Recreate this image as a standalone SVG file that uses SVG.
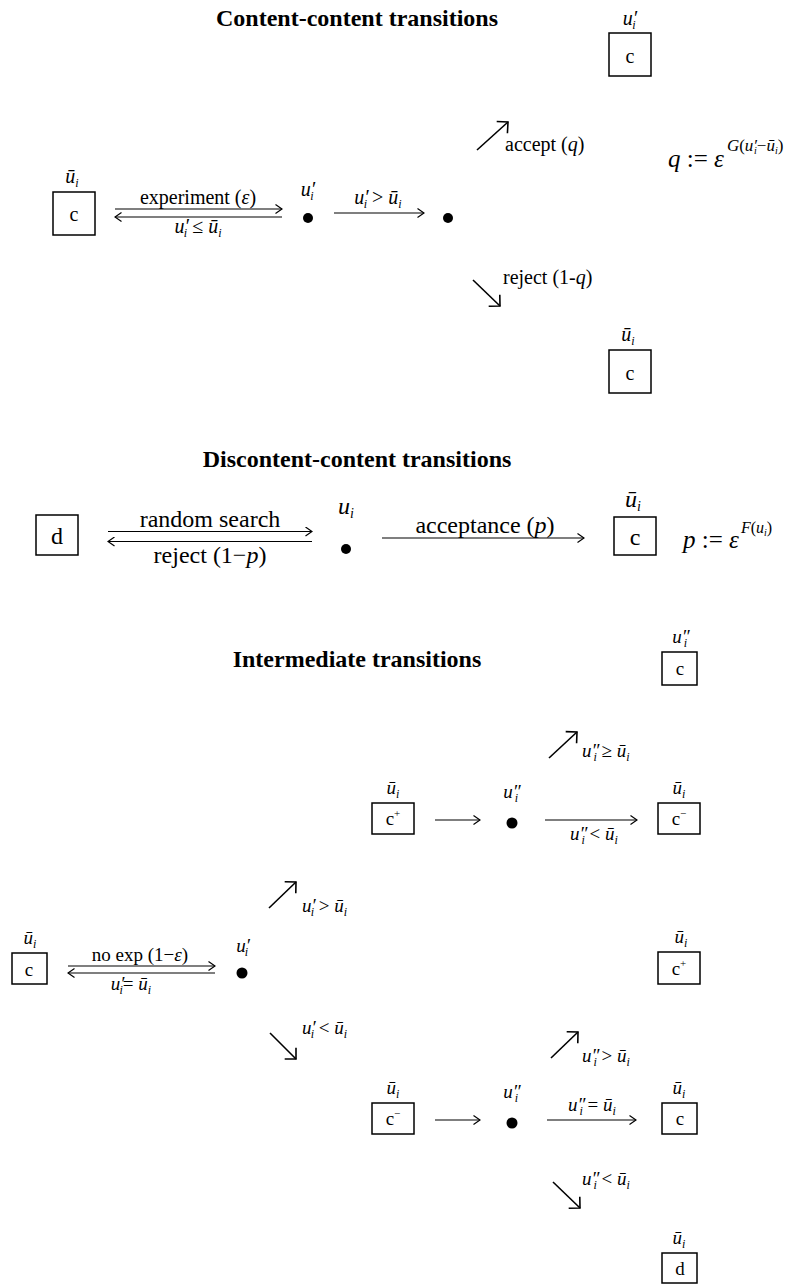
<svg xmlns="http://www.w3.org/2000/svg" width="793" height="1284" viewBox="0 0 793 1284">
<style>
text{font-family:"Liberation Serif","Times New Roman",serif;fill:#000}
.ti{font-size:24px;font-weight:bold}
.a{font-size:20px}
.b{font-size:24px}
.c{font-size:19px}
.i{font-style:italic}
.s{font-size:12px;font-style:italic}
.sb{font-size:14px;font-style:italic}
.box{fill:#fff;stroke:#000;stroke-width:1.5}
.ln{stroke:#000;stroke-width:1.2;fill:none}
.dg{stroke:#000;stroke-width:1.6;fill:none}
.dot{fill:#000}
</style>
<defs>
<marker id="ah" viewBox="0 0 8 10" refX="7" refY="5" markerWidth="8" markerHeight="10" markerUnits="userSpaceOnUse" orient="auto">
<path d="M0.5,0.5 L7,5 L0.5,9.5" fill="none" stroke="#000" stroke-width="1.2"/>
</marker>
<marker id="ad" viewBox="0 0 10 18" refX="9" refY="9" markerWidth="10" markerHeight="18" markerUnits="userSpaceOnUse" orient="auto">
<path d="M1,1 L9,9 L1,17" fill="none" stroke="#000" stroke-width="1.6"/>
</marker>
</defs>

<!-- Titles -->
<text class="ti" x="357" y="26" text-anchor="middle">Content-content transitions</text>
<text class="ti" x="357" y="467" text-anchor="middle">Discontent-content transitions</text>
<text class="ti" x="357" y="667" text-anchor="middle">Intermediate transitions</text>

<!-- Section 1 nodes -->
<g id="s1-c-left">
<rect class="box" x="53" y="192" width="42" height="43"/>
<text class="a" x="74" y="221" text-anchor="middle">c</text>
<text class="a" x="72" y="183" text-anchor="middle"><tspan class="i">ū</tspan><tspan class="s" dy="4">i</tspan></text>
</g>
<g id="s1-dot1">
<circle class="dot" cx="308" cy="218" r="5"/>
<text class="a" x="308" y="196" text-anchor="middle"><tspan class="i">u′</tspan><tspan class="s" dx="-5" dy="4">i</tspan></text>
</g>
<g id="s1-dot2">
<circle class="dot" cx="448" cy="218" r="5"/>
</g>
<g id="s1-c-top">
<rect class="box" x="609" y="33" width="42" height="43"/>
<text class="a" x="630" y="63" text-anchor="middle">c</text>
<text class="a" x="630" y="25" text-anchor="middle"><tspan class="i">u′</tspan><tspan class="s" dx="-5" dy="4">i</tspan></text>
</g>
<g id="s1-c-bottom">
<rect class="box" x="609" y="350" width="42" height="43"/>
<text class="a" x="630" y="380" text-anchor="middle">c</text>
<text class="a" x="628" y="341" text-anchor="middle"><tspan class="i">ū</tspan><tspan class="s" dy="4">i</tspan></text>
</g>
<g id="s1-formula">
<text x="668" y="167" font-size="25"><tspan class="i">q</tspan> := <tspan class="i">ε</tspan><tspan font-size="17" dy="-16" dx="3"><tspan class="i">G</tspan>(<tspan class="i">u′</tspan><tspan font-size="10" font-style="italic" dx="-3" dy="3">i</tspan><tspan dy="-3">−</tspan><tspan class="i">ū</tspan><tspan font-size="10" font-style="italic" dy="3">i</tspan><tspan dy="-3">)</tspan></tspan></text>
</g>

<!-- Section 2 nodes -->
<g id="s2-d">
<rect class="box" x="36" y="515" width="42" height="40"/>
<text class="b" x="57" y="544" text-anchor="middle">d</text>
</g>
<g id="s2-dot">
<circle class="dot" cx="346" cy="549" r="5"/>
<text class="b" x="346" y="514" text-anchor="middle"><tspan class="i">u</tspan><tspan class="sb" dy="4">i</tspan></text>
</g>
<g id="s2-c">
<rect class="box" x="614" y="517" width="42" height="38"/>
<text class="b" x="635" y="545" text-anchor="middle">c</text>
<text class="b" x="633" y="507" text-anchor="middle"><tspan class="i">ū</tspan><tspan class="sb" dy="4">i</tspan></text>
</g>
<g id="s2-formula">
<text x="683" y="548" font-size="25"><tspan class="i">p</tspan> := <tspan class="i">ε</tspan><tspan font-size="16" dy="-15" dx="2"><tspan class="i">F</tspan>(<tspan class="i">u</tspan><tspan font-size="10" font-style="italic" dy="3">i</tspan><tspan dy="-3">)</tspan></tspan></text>
</g>

<!-- Section 3 nodes -->
<g id="s3-c-left">
<rect class="box" x="12" y="953" width="35" height="31"/>
<text class="c" x="29" y="976" text-anchor="middle">c</text>
<text class="c" x="30" y="944" text-anchor="middle"><tspan class="i">ū</tspan><tspan class="s" dy="4">i</tspan></text>
</g>
<g id="s3-dot1">
<circle class="dot" cx="242" cy="973" r="5.5"/>
<text class="c" x="243" y="952" text-anchor="middle"><tspan class="i">u′</tspan><tspan class="s" dx="-5" dy="4">i</tspan></text>
</g>
<g id="s3-cplus-a">
<rect class="box" x="372" y="803" width="42" height="31"/>
<text class="c" x="393" y="825" text-anchor="middle">c<tspan font-size="11" dy="-8">+</tspan></text>
<text class="c" x="393" y="794" text-anchor="middle"><tspan class="i">ū</tspan><tspan class="s" dy="4">i</tspan></text>
</g>
<g id="s3-dot2">
<circle class="dot" cx="512" cy="823" r="5.5"/>
<text class="c" x="512" y="798" text-anchor="middle"><tspan class="i">u″</tspan><tspan class="s" dx="-6" dy="4">i</tspan></text>
</g>
<g id="s3-c-top">
<rect class="box" x="662" y="652" width="35" height="33"/>
<text class="c" x="680" y="675" text-anchor="middle">c</text>
<text class="c" x="681" y="643" text-anchor="middle"><tspan class="i">u″</tspan><tspan class="s" dx="-6" dy="4">i</tspan></text>
</g>
<g id="s3-cminus-a">
<rect class="box" x="658" y="803" width="42" height="31"/>
<text class="c" x="679" y="825" text-anchor="middle">c<tspan font-size="11" dy="-8">−</tspan></text>
<text class="c" x="679" y="794" text-anchor="middle"><tspan class="i">ū</tspan><tspan class="s" dy="4">i</tspan></text>
</g>
<g id="s3-cplus-b">
<rect class="box" x="658" y="952" width="42" height="32"/>
<text class="c" x="679" y="975" text-anchor="middle">c<tspan font-size="11" dy="-8">+</tspan></text>
<text class="c" x="681" y="943" text-anchor="middle"><tspan class="i">ū</tspan><tspan class="s" dy="4">i</tspan></text>
</g>
<g id="s3-cminus-b">
<rect class="box" x="372" y="1103" width="42" height="31"/>
<text class="c" x="393" y="1125" text-anchor="middle">c<tspan font-size="11" dy="-8">−</tspan></text>
<text class="c" x="393" y="1094" text-anchor="middle"><tspan class="i">ū</tspan><tspan class="s" dy="4">i</tspan></text>
</g>
<g id="s3-dot3">
<circle class="dot" cx="512" cy="1123" r="5.5"/>
<text class="c" x="512" y="1098" text-anchor="middle"><tspan class="i">u″</tspan><tspan class="s" dx="-6" dy="4">i</tspan></text>
</g>
<g id="s3-c-mid">
<rect class="box" x="662" y="1103" width="35" height="31"/>
<text class="c" x="680" y="1125" text-anchor="middle">c</text>
<text class="c" x="679" y="1094" text-anchor="middle"><tspan class="i">ū</tspan><tspan class="s" dy="4">i</tspan></text>
</g>
<g id="s3-d">
<rect class="box" x="662" y="1253" width="35" height="30"/>
<text class="c" x="680" y="1275" text-anchor="middle">d</text>
<text class="c" x="679" y="1244" text-anchor="middle"><tspan class="i">ū</tspan><tspan class="s" dy="4">i</tspan></text>
</g>

<!-- Connectors -->
<g id="connectors">
<!-- Section 1 -->
<line class="ln" x1="115" y1="209" x2="282" y2="209" marker-end="url(#ah)"/>
<line class="ln" x1="282" y1="217" x2="115" y2="217" marker-end="url(#ah)"/>
<text class="a" x="198" y="204" text-anchor="middle">experiment (<tspan class="i">ε</tspan>)</text>
<text class="a" x="198" y="233" text-anchor="middle"><tspan class="i">u′</tspan><tspan class="s" dx="-5" dy="4">i</tspan><tspan dy="-4"> ≤ </tspan><tspan class="i">ū</tspan><tspan class="s" dy="4">i</tspan></text>
<line class="ln" x1="334" y1="213" x2="424" y2="213" marker-end="url(#ah)"/>
<text class="a" x="378" y="204" text-anchor="middle"><tspan class="i">u′</tspan><tspan class="s" dx="-5" dy="4">i</tspan><tspan dy="-4"> &gt; </tspan><tspan class="i">ū</tspan><tspan class="s" dy="4">i</tspan></text>
<line class="dg" x1="477" y1="150" x2="508" y2="122" marker-end="url(#ad)"/>
<text class="a" x="505" y="151">accept (<tspan class="i">q</tspan>)</text>
<line class="dg" x1="473" y1="280" x2="500" y2="306" marker-end="url(#ad)"/>
<text class="a" x="503" y="284">reject (1-<tspan class="i">q</tspan>)</text>

<!-- Section 2 -->
<line class="ln" x1="108" y1="531.5" x2="312" y2="531.5" marker-end="url(#ah)"/>
<line class="ln" x1="312" y1="541.5" x2="108" y2="541.5" marker-end="url(#ah)"/>
<text class="b" x="210" y="527" text-anchor="middle">random search</text>
<text class="b" x="210" y="563" text-anchor="middle">reject (1−<tspan class="i">p</tspan>)</text>
<line class="ln" x1="382" y1="538" x2="584" y2="538" marker-end="url(#ah)"/>
<text class="b" x="485" y="533" text-anchor="middle">acceptance (<tspan class="i">p</tspan>)</text>

<!-- Section 3 -->
<line class="ln" x1="68" y1="966" x2="215" y2="966" marker-end="url(#ah)"/>
<line class="ln" x1="215" y1="973" x2="68" y2="973" marker-end="url(#ah)"/>
<text class="c" x="140" y="961" text-anchor="middle">no exp (1−<tspan class="i">ε</tspan>)</text>
<text class="c" x="131" y="990" text-anchor="middle"><tspan class="i">u′</tspan><tspan class="s" dx="-5" dy="4">i</tspan><tspan dy="-4">= </tspan><tspan class="i">ū</tspan><tspan class="s" dy="4">i</tspan></text>
<line class="dg" x1="269" y1="908" x2="296" y2="882" marker-end="url(#ad)"/>
<text class="c" x="302" y="912"><tspan class="i">u′</tspan><tspan class="s" dx="-5" dy="4">i</tspan><tspan dy="-4"> &gt; </tspan><tspan class="i">ū</tspan><tspan class="s" dy="4">i</tspan></text>
<line class="dg" x1="270" y1="1033" x2="296" y2="1059" marker-end="url(#ad)"/>
<text class="c" x="302" y="1034"><tspan class="i">u′</tspan><tspan class="s" dx="-5" dy="4">i</tspan><tspan dy="-4"> &lt; </tspan><tspan class="i">ū</tspan><tspan class="s" dy="4">i</tspan></text>

<line class="ln" x1="435" y1="820" x2="480" y2="820" marker-end="url(#ah)"/>
<line class="dg" x1="549" y1="758" x2="577" y2="732" marker-end="url(#ad)"/>
<text class="c" x="582" y="757"><tspan class="i">u″</tspan><tspan class="s" dx="-6" dy="4">i</tspan><tspan dy="-4"> ≥ </tspan><tspan class="i">ū</tspan><tspan class="s" dy="4">i</tspan></text>
<line class="ln" x1="545" y1="820" x2="637" y2="820" marker-end="url(#ah)"/>
<text class="c" x="594" y="840" text-anchor="middle"><tspan class="i">u″</tspan><tspan class="s" dx="-6" dy="4">i</tspan><tspan dy="-4"> &lt; </tspan><tspan class="i">ū</tspan><tspan class="s" dy="4">i</tspan></text>

<line class="ln" x1="435" y1="1120" x2="480" y2="1120" marker-end="url(#ah)"/>
<line class="dg" x1="551" y1="1058" x2="578" y2="1032" marker-end="url(#ad)"/>
<text class="c" x="582" y="1062"><tspan class="i">u″</tspan><tspan class="s" dx="-6" dy="4">i</tspan><tspan dy="-4"> &gt; </tspan><tspan class="i">ū</tspan><tspan class="s" dy="4">i</tspan></text>
<line class="ln" x1="547" y1="1120" x2="636" y2="1120" marker-end="url(#ah)"/>
<text class="c" x="592" y="1111" text-anchor="middle"><tspan class="i">u″</tspan><tspan class="s" dx="-6" dy="4">i</tspan><tspan dy="-4"> = </tspan><tspan class="i">ū</tspan><tspan class="s" dy="4">i</tspan></text>
<line class="dg" x1="553" y1="1182" x2="580" y2="1208" marker-end="url(#ad)"/>
<text class="c" x="582" y="1185"><tspan class="i">u″</tspan><tspan class="s" dx="-6" dy="4">i</tspan><tspan dy="-4"> &lt; </tspan><tspan class="i">ū</tspan><tspan class="s" dy="4">i</tspan></text>
</g>
</svg>
